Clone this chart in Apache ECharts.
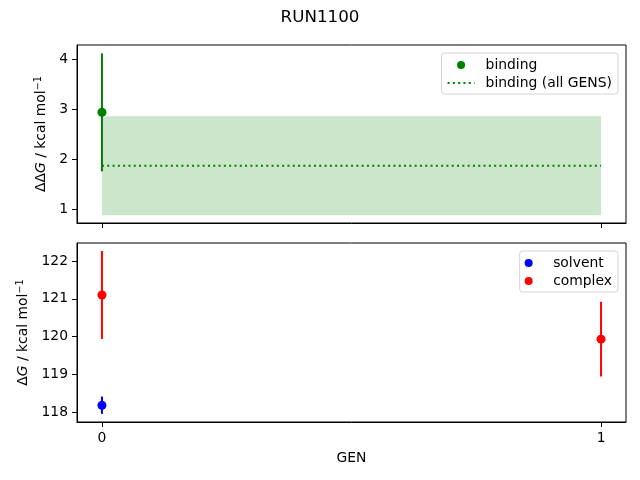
<!DOCTYPE html>
<html><head><meta charset="utf-8">
<script src="https://cdn.jsdelivr.net/npm/echarts@6/dist/echarts.min.js"></script>
<style>html,body{margin:0;padding:0;background:#fff}#c{width:640px;height:480px}</style>
</head><body><div id="c"></div>
<script>
const genTicks = [0, 1];
const bindingGen = [0];
const bindingVal = [2.94];
const bindingErr = [1.18];
const bindingAllVal = 1.87;
const bindingAllErr = 0.99;
const solventGen = [0];
const solventVal = [118.18];
const solventErr = [0.23];
const complexGen = [0, 1];
const complexVal = [121.10, 119.93];
const complexErr = [1.165, 0.99];
const topTicks = [1, 2, 3, 4];
const bottomTicks = [118, 119, 120, 121, 122];

const FONT = 'DejaVu Sans';
function rows(xs, ys, es) { return xs.map((x, i) => [x, ys[i], es[i]]); }
function errSeries(name, data, color, gi) {
  return {
    type: 'custom', name: name, xAxisIndex: gi, yAxisIndex: gi, data: data, z: 2,
    itemStyle: { color: color },
    renderItem: function (params, api) {
      const x = api.value(0), y = api.value(1), e = api.value(2);
      const p1 = api.coord([x, y - e]), p2 = api.coord([x, y + e]);
      return { type: 'line', shape: { x1: p1[0], y1: p1[1], x2: p2[0], y2: p2[1] },
        style: { stroke: color, lineWidth: 2 } };
    },
    encode: { x: 0, y: [1] }
  };
}
function xAx(gi, showLabel) {
  return {
    type: 'value', gridIndex: gi, min: -0.05, max: 1.05,
    axisLine: { show: true, onZero: false, lineStyle: { color: '#000', width: 1 } },
    axisTick: { show: true, inside: false, length: 5, customValues: genTicks, lineStyle: { color: '#000' } },
    axisLabel: { show: showLabel, customValues: genTicks, margin: 9, color: '#000', fontFamily: FONT, fontSize: 13.9 },
    splitLine: { show: false },
    name: showLabel ? 'GEN' : '', nameLocation: 'middle', nameGap: 29,
    nameTextStyle: { color: '#000', fontFamily: FONT, fontSize: 13.9 }
  };
}
function yAx(gi, min, max, ticks, rich, nameGap) {
  return {
    type: 'value', gridIndex: gi, min: min, max: max,
    axisLine: { show: true, onZero: false, lineStyle: { color: '#000', width: 1 } },
    axisTick: { show: true, inside: false, length: 5, customValues: ticks, lineStyle: { color: '#000' } },
    axisLabel: { customValues: ticks, margin: 9, color: '#000', fontFamily: FONT, fontSize: 13.9 },
    splitLine: { show: false },
    name: rich, nameLocation: 'middle', nameGap: nameGap, nameRotate: 90,
    nameTextStyle: {
      color: '#000', fontFamily: FONT, fontSize: 13.9,
      rich: {
        n: { fontFamily: FONT, fontSize: 13.9, color: '#000' },
        i: { fontFamily: FONT, fontSize: 13.9, fontStyle: 'italic', color: '#000' },
        s: { fontFamily: FONT, fontSize: 9.7, color: '#000', verticalAlign: 'top', padding: [0, 0, 6, 0] }
      }
    }
  };
}
const legendBase = {
  orient: 'vertical', backgroundColor: '#fff', borderColor: '#d5d5d5', borderWidth: 1, borderRadius: 3,
  padding: [5, 6, 4, 5], itemWidth: 27, itemHeight: 8, itemGap: 4,
  textStyle: { color: '#000', fontFamily: FONT, fontSize: 13.9, padding: [0, 0, 0, 6] }
};
const chart = echarts.init(document.getElementById('c'), null, { renderer: 'canvas' });
chart.setOption({
  animation: false,
  backgroundColor: '#fff',
  title: { text: 'RUN1100', left: 'center', top: 4, textStyle: { color: '#000', fontFamily: FONT, fontSize: 16.7, fontWeight: 'normal' } },
  grid: [
    { left: 77, right: 14, top: 45, height: 178, show: true, borderColor: '#000', borderWidth: 1 },
    { left: 77, right: 14, top: 243, height: 179, show: true, borderColor: '#000', borderWidth: 1 }
  ],
  legend: [
    Object.assign({}, legendBase, { right: 22, top: 53, data: [
      { name: 'binding', icon: 'circle' },
      { name: 'binding (all GENS)', itemStyle: { opacity: 0, borderWidth: 0 } }] }),
    Object.assign({}, legendBase, { right: 22, top: 251, data: [
      { name: 'solvent', icon: 'circle' }, { name: 'complex', icon: 'circle' }] })
  ],
  xAxis: [xAx(0, false), xAx(1, true)],
  yAxis: [
    yAx(0, 0.726, 4.286, topTicks, '{n|ΔΔ}{i|G}{n| / kcal mol}{s|−1}', 26),
    yAx(1, 117.735, 122.477, bottomTicks, '{n|Δ}{i|G}{n| / kcal mol}{s|−1}', 41)
  ],
  series: [
    {
      type: 'line', name: 'binding (all GENS)', xAxisIndex: 0, yAxisIndex: 0,
      data: genTicks.map(g => [g, bindingAllVal]), symbol: 'none', z: 1,
      lineStyle: { color: '#008000', width: 2, type: [2, 3.3] }, itemStyle: { color: '#008000' },
      markArea: { silent: true, itemStyle: { color: 'rgba(0,128,0,0.2)' },
        data: [[{ coord: [genTicks[0], bindingAllVal - bindingAllErr] }, { coord: [genTicks[1], bindingAllVal + bindingAllErr] }]] }
    },
    errSeries('binding_err', rows(bindingGen, bindingVal, bindingErr), '#008000', 0),
    { type: 'scatter', name: 'binding', xAxisIndex: 0, yAxisIndex: 0, symbolSize: 9, z: 3,
      itemStyle: { color: '#008000', opacity: 1 }, data: bindingGen.map((g, i) => [g, bindingVal[i]]) },
    errSeries('solvent_err', rows(solventGen, solventVal, solventErr), '#0000ff', 1),
    { type: 'scatter', name: 'solvent', xAxisIndex: 1, yAxisIndex: 1, symbolSize: 9, z: 3,
      itemStyle: { color: '#0000ff', opacity: 1 }, data: solventGen.map((g, i) => [g, solventVal[i]]) },
    errSeries('complex_err', rows(complexGen, complexVal, complexErr), '#ff0000', 1),
    { type: 'scatter', name: 'complex', xAxisIndex: 1, yAxisIndex: 1, symbolSize: 9, z: 3,
      itemStyle: { color: '#ff0000', opacity: 1 }, data: complexGen.map((g, i) => [g, complexVal[i]]) }
  ]
});
</script></body></html>
